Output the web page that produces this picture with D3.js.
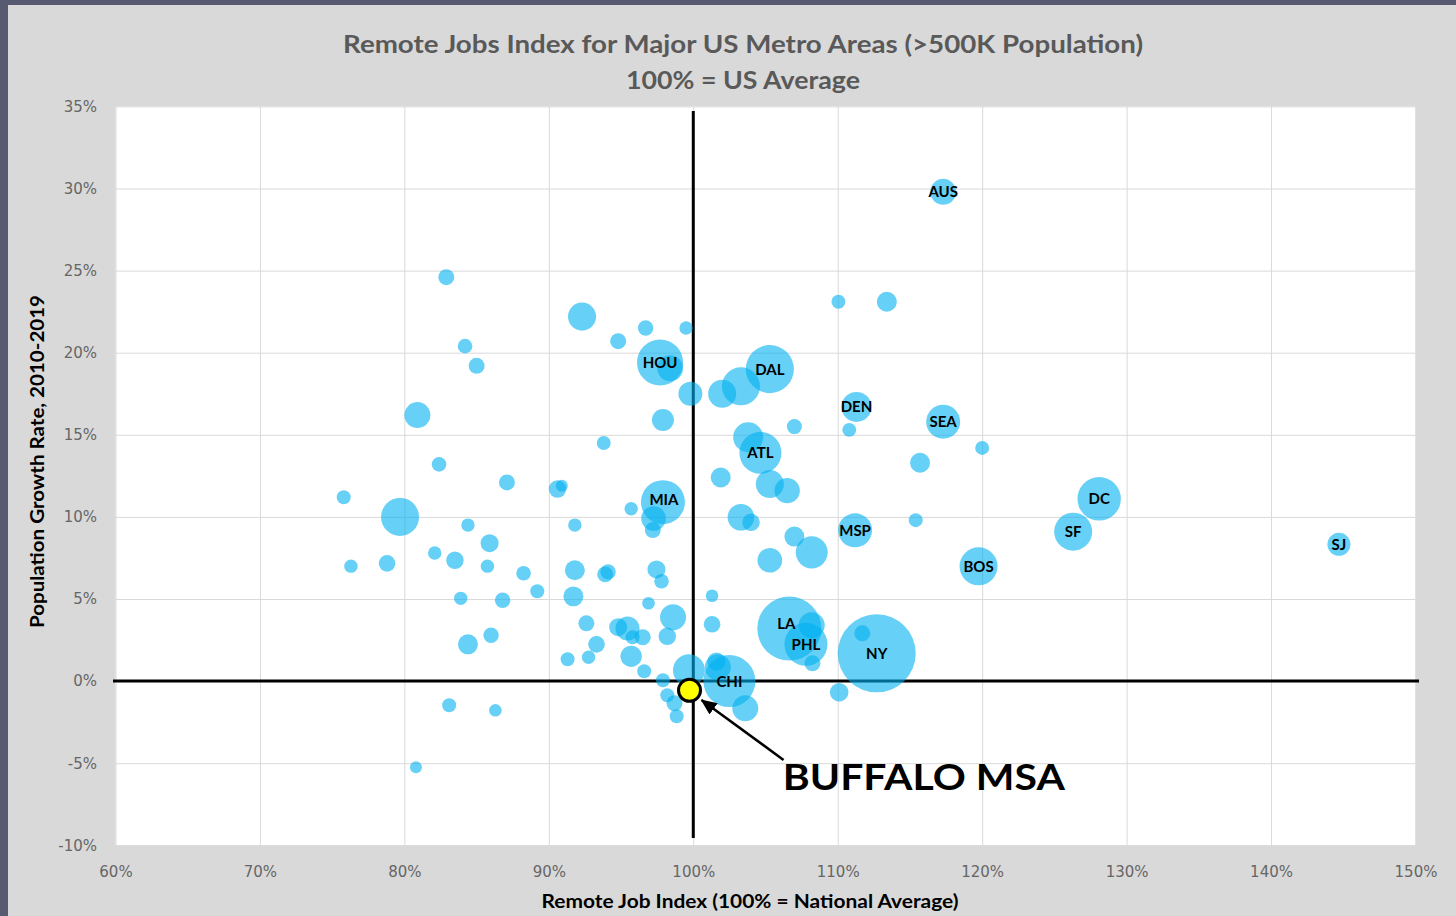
<!DOCTYPE html>
<html><head><meta charset="utf-8">
<script src="https://cdn.jsdelivr.net/npm/d3@7"></script>
<style>
html,body{margin:0;padding:0;background:#d9d9d9;}
svg{display:block;}
</style></head><body>
<svg id="chart" width="1456" height="916"></svg>
<script>
// ---------------- DATA ----------------
const metros = [
  "AUS","","","","","","","","HOU","",
  "","DAL","","","","DEN","","","SEA","",
  "","","","","","","","ATL","","",
  "","","","","","MIA","","","","",
  "","","","","MSP","","","","","DC",
  "SF","BOS","SJ","","","","","","","",
  "","","","","","","","","","",
  "","","","","","","","","","",
  "","","","","","","","","","",
  "","","","","CHI","","","","LA","PHL",
  "","","NY","",""
];
const remoteIndex = [117.3,82.9,92.3,94.8,96.7,99.5,84.2,85.0,97.7,98.4,99.8,105.3,103.3,102.0,97.9,111.3,110.8,107.0,117.3,110.05,113.4,80.9,93.8,82.4,120.0,115.7,103.8,104.65,101.9,105.3,106.5,75.8,87.1,90.6,90.9,97.9,97.25,97.2,95.7,79.7,84.4,91.8,103.3,104.0,111.2,115.4,107.0,108.2,105.3,128.1,126.3,119.75,144.7,101.3,85.9,82.1,83.5,85.75,76.3,78.8,88.25,91.8,93.9,94.1,89.2,83.9,86.8,91.7,92.6,93.3,91.3,92.75,84.4,86.0,83.1,86.3,80.8,97.45,97.8,96.9,98.6,101.3,94.8,95.45,95.8,96.5,98.2,95.7,96.6,97.9,99.7,98.2,98.7,98.85,102.5,101.7,101.6,103.6,106.65,107.8,108.2,108.25,112.7,111.7,110.1];
const growthRate = [29.8,24.6,22.2,20.7,21.5,21.5,20.4,19.2,19.4,19.05,17.5,19.0,17.95,17.5,15.9,16.7,15.3,15.5,15.8,23.1,23.1,16.2,14.5,13.2,14.2,13.3,14.85,13.9,12.4,12.0,11.6,11.2,12.1,11.7,11.9,10.9,9.9,9.2,10.5,10.0,9.5,9.5,9.98,9.67,9.18,9.8,8.8,7.84,7.36,11.1,9.1,6.99,8.33,5.2,8.4,7.8,7.36,7.0,7.0,7.17,6.57,6.75,6.5,6.65,5.47,5.04,4.92,5.16,3.52,2.24,1.33,1.45,2.24,2.79,-1.47,-1.78,-5.25,6.8,6.08,4.74,3.89,3.46,3.28,3.2,2.67,2.67,2.73,1.51,0.6,0.05,0.66,-0.86,-1.35,-2.14,0.0,0.84,1.2,-1.66,3.2,2.24,3.4,1.08,1.69,2.91,-0.68];
const population = [2.2,0.84,2.6,0.84,0.78,0.59,0.70,0.84,7.0,2.2,1.89,7.6,4.75,2.58,1.59,2.96,0.64,0.74,3.8,0.64,1.31,2.22,0.64,0.70,0.64,1.31,2.96,5.8,1.31,2.58,2.12,0.64,0.84,1.0,0.47,6.36,2.0,0.84,0.59,4.75,0.59,0.59,2.33,1.0,3.8,0.64,1.31,3.37,2.0,6.2,4.75,4.75,1.74,0.52,1.07,0.59,1.0,0.59,0.59,0.91,0.70,1.31,0.84,0.78,0.64,0.59,0.78,1.31,0.84,0.91,0.64,0.59,1.31,0.78,0.64,0.52,0.47,1.07,0.70,0.52,2.22,0.91,1.07,1.89,0.64,0.84,1.0,1.5,0.64,0.64,3.37,0.64,0.84,0.64,8.9,2.22,1.07,2.22,13.5,6.1,2.22,0.84,20,0.84,1.14];

const xTicks = [60,70,80,90,100,110,120,130,140,150];
const yTicks = [-10,-5,0,5,10,15,20,25,30,35];

const buffaloIndex = 99.74, buffaloGrowth = -0.56;
const buffaloLabel = "BUFFALO MSA";
const arrowFrom = [106.25, -4.8], arrowTo = [100.57, -1.15];
const labelAt = [106.2, -6.63];

const titleLines = ["Remote Jobs Index for Major US Metro Areas (>500K Population)", "100% = US Average"];
const xTitle = "Remote Job Index (100% = National Average)";
const yTitle = "Population Growth Rate, 2010-2019";

// label nudges (pixels, styling only)
const labelNudge = {LA:[-3,-5], MIA:[1,-3]};

// ---------------- CHART ----------------
const svg = d3.select("#chart");
const W = 1456, H = 916;

const x = d3.scaleLinear().domain([60,150]).range([115.5,1415.5]);
const y = d3.scaleLinear().domain([-10,35]).range([845.3,106.4]);
const r = d3.scaleSqrt().domain([0,20]).range([0,39]);

// background + frame strips
svg.append("rect").attr("width",W).attr("height",H).attr("fill","#d9d9d9");
svg.append("rect").attr("x",0).attr("y",0).attr("width",8).attr("height",H).attr("fill","#585a72");
svg.append("rect").attr("x",0).attr("y",0).attr("width",W).attr("height",5).attr("fill","#585a72");

// plot area
svg.append("rect")
  .attr("x",x(60)).attr("y",y(35))
  .attr("width",x(150)-x(60)).attr("height",y(-10)-y(35))
  .attr("fill","#ffffff");

// gridlines
const gx = svg.append("g").attr("transform",`translate(0,${y(-10)})`)
  .call(d3.axisBottom(x).tickValues(xTicks).tickSize(-(y(-10)-y(35))).tickFormat(""));
gx.select(".domain").remove();
gx.selectAll("text").remove();
gx.selectAll("line").attr("stroke","#d9d9d9").attr("stroke-width",1);
const gy = svg.append("g").attr("transform",`translate(${x(60)},0)`)
  .call(d3.axisLeft(y).tickValues(yTicks).tickSize(-(x(150)-x(60))).tickFormat(""));
gy.select(".domain").remove();
gy.selectAll("text").remove();
gy.selectAll("line").attr("stroke","#d9d9d9").attr("stroke-width",1);

// tick labels
const ax = svg.append("g").attr("transform",`translate(0,${y(-10)})`)
  .call(d3.axisBottom(x).tickValues(xTicks).tickSize(0).tickPadding(21).tickFormat(d=>d+"%"));
ax.select(".domain").remove();
const ay = svg.append("g").attr("transform",`translate(${x(60)},0)`)
  .call(d3.axisLeft(y).tickValues(yTicks).tickSize(0).tickPadding(18.5).tickFormat(d=>d+"%"));
ay.select(".domain").remove();
svg.selectAll(".tick text")
  .attr("font-family","'DejaVu Sans', sans-serif")
  .attr("font-size",15).attr("fill","#666666");

// zero / 100% cross lines
svg.append("line").attr("x1",113).attr("x2",1419).attr("y1",y(0)).attr("y2",y(0))
  .attr("stroke","#000").attr("stroke-width",3);
svg.append("line").attr("x1",x(100)).attr("x2",x(100)).attr("y1",111).attr("y2",838)
  .attr("stroke","#000").attr("stroke-width",3);

// bubbles
const data = metros.map((m,i)=>({m, xv:remoteIndex[i], yv:growthRate[i], p:population[i]}));
svg.append("g").selectAll("circle").data(data).join("circle")
  .attr("cx",d=>x(d.xv)).attr("cy",d=>y(d.yv)).attr("r",d=>r(d.p))
  .attr("fill","#00b0f0").attr("fill-opacity",0.6);

svg.append("g").selectAll("text").data(data.filter(d=>d.m)).join("text")
  .attr("x",d=>x(d.xv)+((labelNudge[d.m]||[0,0])[0]))
  .attr("y",d=>y(d.yv)+((labelNudge[d.m]||[0,0])[1])).attr("dy","0.36em")
  .attr("text-anchor","middle")
  .attr("font-family","Lato, sans-serif").attr("font-weight",700).attr("font-size",15)
  .attr("fill","#000").text(d=>d.m);

// Buffalo annotation
svg.append("defs").append("marker")
  .attr("id","arrow").attr("markerUnits","userSpaceOnUse")
  .attr("viewBox","0 0 16 14").attr("refX",15).attr("refY",7)
  .attr("markerWidth",16).attr("markerHeight",14).attr("orient","auto")
  .append("path").attr("d","M0,0 L16,7 L0,14 Z").attr("fill","#000");
svg.append("line")
  .attr("x1",x(arrowFrom[0])).attr("y1",y(arrowFrom[1]))
  .attr("x2",x(arrowTo[0])).attr("y2",y(arrowTo[1]))
  .attr("stroke","#000").attr("stroke-width",2.5).attr("marker-end","url(#arrow)");
svg.append("circle").attr("cx",x(buffaloIndex)).attr("cy",y(buffaloGrowth)).attr("r",11)
  .attr("fill","#ffff00").attr("stroke","#000").attr("stroke-width",3);
svg.append("text").attr("x",x(labelAt[0])).attr("y",y(labelAt[1]))
  .attr("font-family","Lato, sans-serif").attr("font-weight",700).attr("font-size",37)
  .attr("fill","#000").attr("textLength",282).attr("lengthAdjust","spacingAndGlyphs")
  .text(buffaloLabel);

// titles
svg.append("text").attr("x",743).attr("y",53).attr("text-anchor","middle")
  .attr("font-family","Lato, sans-serif").attr("font-weight",700).attr("font-size",24)
  .attr("fill","#595959").attr("textLength",800).attr("lengthAdjust","spacingAndGlyphs")
  .text(titleLines[0]);
svg.append("text").attr("x",743).attr("y",89).attr("text-anchor","middle")
  .attr("font-family","Lato, sans-serif").attr("font-weight",700).attr("font-size",24)
  .attr("fill","#595959").attr("textLength",234).attr("lengthAdjust","spacingAndGlyphs")
  .text(titleLines[1]);

svg.append("text").attr("x",750).attr("y",908).attr("text-anchor","middle")
  .attr("font-family","Lato, sans-serif").attr("font-weight",700).attr("font-size",19)
  .attr("fill","#000").attr("textLength",417).attr("lengthAdjust","spacingAndGlyphs")
  .text(xTitle);
svg.append("text").attr("transform","translate(44,461.5) rotate(-90)").attr("text-anchor","middle")
  .attr("font-family","Lato, sans-serif").attr("font-weight",700).attr("font-size",19)
  .attr("fill","#000").attr("textLength",333).attr("lengthAdjust","spacingAndGlyphs")
  .text(yTitle);
</script>
</body></html>
